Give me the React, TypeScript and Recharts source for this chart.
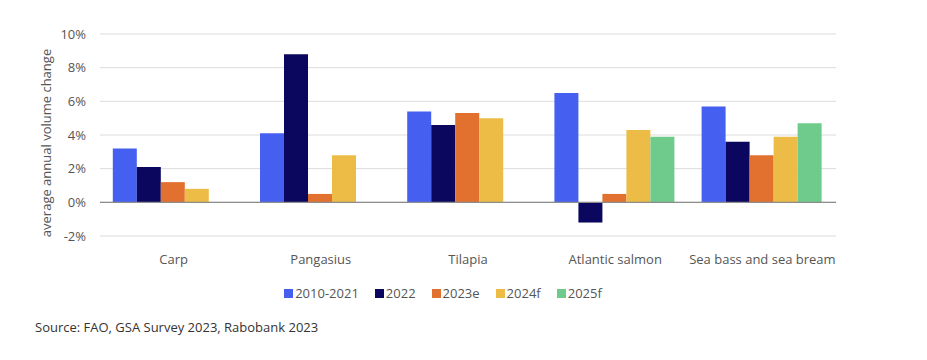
import React from 'react';
import { BarChart, Bar, XAxis, YAxis, CartesianGrid, Legend, ReferenceLine } from 'recharts';

const categories = ['Carp', 'Pangasius', 'Tilapia', 'Atlantic salmon', 'Sea bass and sea bream'];
const s2010_2021 = [3.2, 4.1, 5.4, 6.5, 5.7];
const s2022 = [2.1, 8.8, 4.6, -1.2, 3.6];
const s2023e = [1.2, 0.5, 5.3, 0.5, 2.8];
const s2024f = [0.8, 2.8, 5.0, 4.3, 3.9];
const s2025f = [null, null, null, 3.9, 4.7];
const yTicks = [-2, 0, 2, 4, 6, 8, 10];

const series = [
  { key: '2010-2021', values: s2010_2021, color: '#4560F0' },
  { key: '2022', values: s2022, color: '#0C075E' },
  { key: '2023e', values: s2023e, color: '#E2702F' },
  { key: '2024f', values: s2024f, color: '#EDBC47' },
  { key: '2025f', values: s2025f, color: '#6FCB8C' },
];

const data = categories.map((c, i) => {
  const row: any = { name: c };
  series.forEach((s) => { row[s.key] = s.values[i]; });
  return row;
});

const font = '"Open Sans", sans-serif';

const LegendContent = (props: any) => {
  const payload = props.payload || [];
  return (
    <div style={{ display: 'flex', justifyContent: 'center', alignItems: 'center', fontFamily: font, fontSize: 13, color: '#555', lineHeight: '18px' }}>
      {payload.map((p: any, i: number) => (
        <div key={p.value} style={{ display: 'flex', alignItems: 'center', marginLeft: i === 0 ? 0 : 16 }}>
          <span style={{ display: 'inline-block', width: 9, height: 9, background: p.color, marginRight: 2 }} />
          <span>{p.value}</span>
        </div>
      ))}
    </div>
  );
};

export default function App() {
  return (
    <div style={{ position: 'absolute', left: 0, top: 0, width: 927, height: 360, background: '#fff', fontFamily: font }}>
      <BarChart
        width={927}
        height={360}
        data={data}
        margin={{ top: 34, right: 91, left: 40, bottom: 72 }}
        barCategoryGap="8.7%"
        barGap={0}
      >
        <CartesianGrid vertical={false} stroke="#dcdcdc" strokeWidth={1} />
        <XAxis
          dataKey="name"
          axisLine={false}
          tickLine={false}
          height={34}
          tick={{ fill: '#555', fontSize: 13, fontFamily: font }}
          tickMargin={13}
          interval={0}
        />
        <YAxis
          width={60}
          domain={[-2, 10]}
          ticks={yTicks}
          axisLine={false}
          tickLine={false}
          tickFormatter={(v: number) => `${v}%`}
          tick={{ fill: '#555', fontSize: 13, fontFamily: font }}
          tickMargin={8}
          label={{ value: 'average annual volume change', angle: -90, position: 'insideLeft', offset: 6, dy: 8, style: { fill: '#555', fontSize: 13, fontFamily: font, textAnchor: 'middle' } }}
        />
        <ReferenceLine y={0} stroke="#8c8c8c" strokeWidth={1.2} />
        {series.map((s) => (
          <Bar key={s.key} dataKey={s.key} fill={s.color} isAnimationActive={false} />
        ))}
        <Legend
          verticalAlign="bottom"
          content={<LegendContent />}
          wrapperStyle={{ position: 'absolute', top: 284, left: 0, width: 886, bottom: 'auto' }}
        />
      </BarChart>
      <div style={{ position: 'absolute', left: 35, top: 318, fontSize: 13, color: '#333', fontFamily: font }}>
        Source: FAO, GSA Survey 2023, Rabobank 2023
      </div>
    </div>
  );
}
